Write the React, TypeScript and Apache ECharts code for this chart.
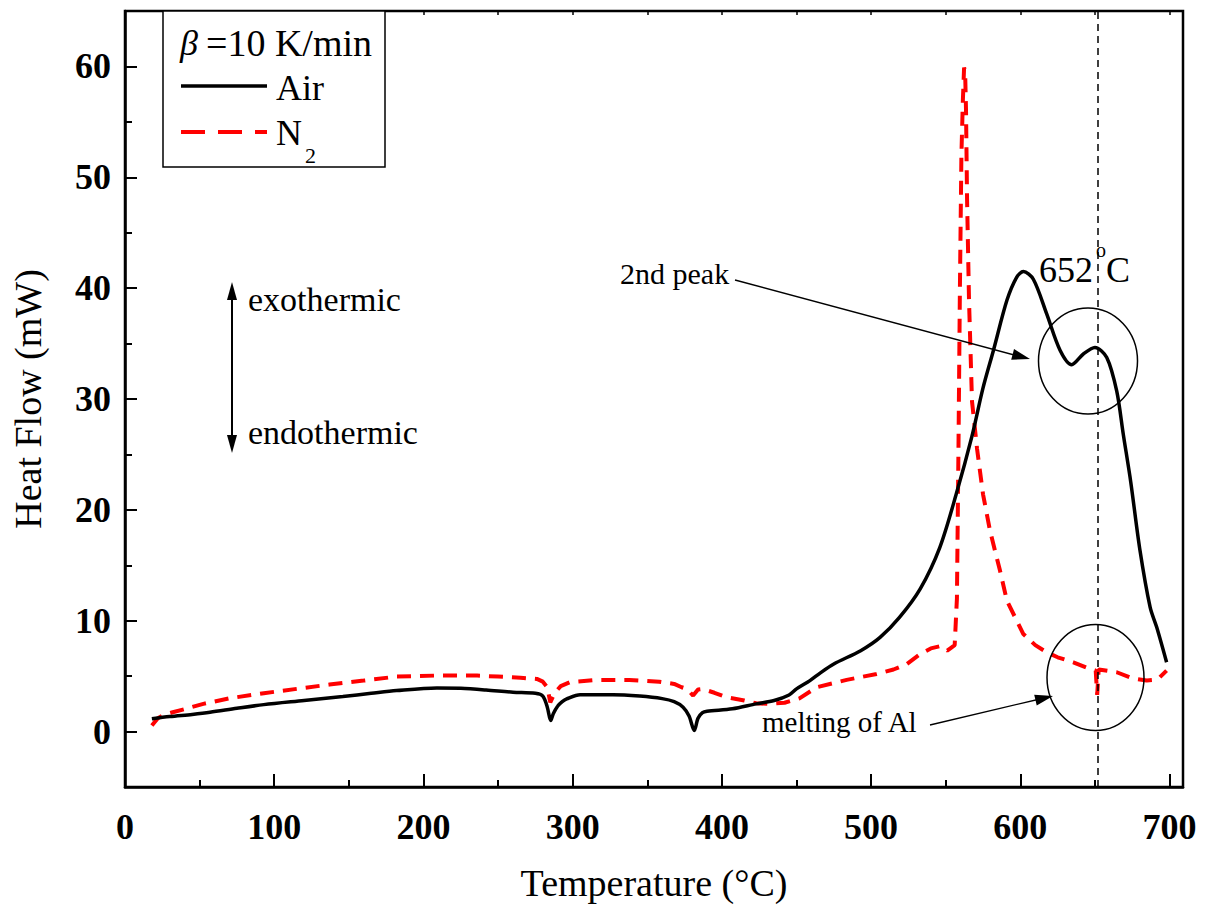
import React, { useEffect, useRef } from "react";
import * as echarts from "echarts";

// Air (black solid) – temperature (°C) and heat flow (mW)
const airT = [18, 30, 45, 57, 75, 93, 120, 146, 165, 182, 209, 225, 242, 260, 275, 280, 283, 285.3, 287, 290, 293, 296, 305, 327, 345, 360, 368, 374, 378, 381.5, 384, 387, 390, 407, 423, 435, 445, 450, 459, 466, 475, 493, 506, 519, 533, 546, 557, 567.5, 575, 582, 591, 597.6, 602, 608.7, 617.6, 626.6, 634.4, 642.2, 650, 657.9, 664.6, 669, 674, 680, 687, 691.4, 698];
const airH = [1.15, 1.35, 1.55, 1.74, 2.1, 2.43, 2.8, 3.16, 3.45, 3.7, 3.94, 3.9, 3.75, 3.55, 3.45, 3.2, 2.2, 0.99, 1.6, 2.3, 2.7, 2.95, 3.33, 3.33, 3.2, 2.97, 2.7, 2.2, 1.4, 0.09, 1.2, 1.7, 1.83, 2.05, 2.5, 2.8, 3.3, 3.85, 4.6, 5.3, 6.1, 7.3, 8.5, 10.3, 12.9, 16.6, 21.4, 26.6, 31, 34.4, 38.9, 41, 41.5, 40.8, 37.7, 34.4, 33.1, 34.06, 34.65, 33.75, 30.7, 26.8, 22.5, 16.5, 11.2, 9.4, 6.25];

// N2 (red dashed)
const n2T = [18, 22, 26, 32, 42, 52.5, 70, 93, 115, 137, 160, 182, 208, 236, 250, 265, 276, 280, 283, 285, 288, 292, 298, 316, 338, 358, 368, 373, 376.5, 380.7, 384, 387, 395, 403, 415, 423, 432, 442, 452, 463.5, 483.6, 503.7, 515, 524, 533, 540, 546, 549, 551, 554, 556, 557.5, 558.5, 559.5, 560.5, 561.5, 562.3, 563, 563.6, 564.3, 565.6, 567.6, 571, 575, 579.7, 586.4, 591, 602, 610, 617.7, 625, 635.5, 646.7, 650.5, 651.5, 652.5, 664.6, 675, 684.7, 692, 698];
const n2H = [0.54, 1.2, 1.5, 1.74, 2.1, 2.5, 3.0, 3.46, 3.85, 4.24, 4.6, 4.96, 5.05, 5.05, 4.96, 4.85, 4.75, 4.5, 4.0, 2.64, 3.5, 4.1, 4.45, 4.66, 4.66, 4.5, 4.3, 4.0, 3.85, 3.25, 3.8, 3.85, 3.5, 3.1, 2.8, 2.55, 2.5, 2.6, 3.0, 4.0, 4.66, 5.2, 5.6, 6.1, 7.0, 7.5, 7.7, 7.5, 7.3, 7.6, 7.8, 12, 25, 40, 52, 57, 59.9, 59.5, 56, 48, 38.9, 29.8, 25.5, 21.4, 18.1, 14.5, 11.8, 8.8, 7.8, 7.15, 6.7, 6.25, 5.65, 5.5, 3.3, 5.6, 5.35, 4.8, 4.6, 4.7, 5.5];

const xMajorTicks = [0, 100, 200, 300, 400, 500, 600, 700];
const xMinorTicks = [50, 150, 250, 350, 450, 550, 650];
const yMajorTicks = [0, 10, 20, 30, 40, 50, 60];
const yMinorTicks = [5, 15, 25, 35, 45, 55];
const meltingTemp = 652;

const FONT = "Liberation Serif";

function arrowHead(fx: number, fy: number, tx: number, ty: number, L = 18, W = 5.5) {
  const dx = tx - fx, dy = ty - fy;
  const len = Math.hypot(dx, dy);
  const ux = dx / len, uy = dy / len;
  const bx = tx - ux * L, by = ty - uy * L;
  const px = -uy, py = ux;
  return [[tx, ty], [bx + px * W, by + py * W], [bx - px * W, by - py * W]];
}

function txt(x: number, y: number, text: string, size: number, extra: any = {}) {
  return {
    type: "text",
    x,
    y,
    z: 100,
    style: {
      text,
      fontFamily: FONT,
      fontSize: size,
      fill: "#000",
      align: "left",
      verticalAlign: "middle",
      textAlign: "left",
      textVerticalAlign: "middle",
      ...extra,
    },
  };
}

export default function App() {
  const ref = useRef<HTMLDivElement>(null);
  useEffect(() => {
    if (!ref.current) return;
    const chart = echarts.init(ref.current, undefined, { renderer: "svg" });
    const airData = airT.map((t, i) => [t, airH[i]]);
    const n2Data = n2T.map((t, i) => [t, n2H[i]]);

    const xBase = { type: "value", min: 0, max: 709, interval: 100, gridIndex: 0, splitLine: { show: false } };
    const yBase = { type: "value", min: -5, max: 65, interval: 5, gridIndex: 0, splitLine: { show: false } };

    const a1 = arrowHead(735, 280, 1030, 359);
    const a2 = arrowHead(930, 725, 1053, 696);

    const option: any = {
      animation: false,
      backgroundColor: "#fff",
      textStyle: { fontFamily: FONT },
      grid: {
        left: 125, right: 24, top: 11, bottom: 125,
        show: true, borderColor: "#000", borderWidth: 2.5, backgroundColor: "transparent",
      },
      xAxis: [
        {
          ...xBase,
          position: "bottom",
          name: "Temperature (°C)",
          nameLocation: "middle",
          nameGap: 77,
          nameTextStyle: { fontFamily: FONT, fontSize: 38, color: "#000" },
          axisLine: { show: true, onZero: false, lineStyle: { color: "#000", width: 2.5 } },
          axisTick: { show: true, inside: true, length: 13, customValues: xMajorTicks, lineStyle: { color: "#000", width: 2 } },
          axisLabel: { customValues: xMajorTicks, margin: 22, fontFamily: FONT, fontWeight: "bold", fontSize: 36, color: "#000" },
        },
        {
          ...xBase,
          position: "bottom",
          axisLine: { show: false, onZero: false },
          axisTick: { show: true, inside: true, length: 7, customValues: xMinorTicks, lineStyle: { color: "#000", width: 2 } },
          axisLabel: { show: false },
        },
        {
          ...xBase,
          position: "top",
          axisLine: { show: false, onZero: false },
          axisTick: { show: true, inside: true, length: 4, customValues: [...xMajorTicks, ...xMinorTicks], lineStyle: { color: "#000", width: 1.5 } },
          axisLabel: { show: false },
        },
      ],
      yAxis: [
        {
          ...yBase,
          position: "left",
          name: "Heat Flow (mW)",
          nameLocation: "middle",
          nameGap: 78,
          nameTextStyle: { fontFamily: FONT, fontSize: 38, color: "#000" },
          axisLine: { show: true, onZero: false, lineStyle: { color: "#000", width: 2.5 } },
          axisTick: { show: true, inside: true, length: 12, customValues: yMajorTicks, lineStyle: { color: "#000", width: 2 } },
          axisLabel: { customValues: yMajorTicks, margin: 14, fontFamily: FONT, fontWeight: "bold", fontSize: 36, color: "#000" },
        },
        {
          ...yBase,
          position: "left",
          axisLine: { show: false, onZero: false },
          axisTick: { show: true, inside: true, length: 7, customValues: yMinorTicks, lineStyle: { color: "#000", width: 2 } },
          axisLabel: { show: false },
        },
      ],
      series: [
        {
          name: "N2",
          type: "line",
          xAxisIndex: 0,
          yAxisIndex: 0,
          data: n2Data,
          showSymbol: false,
          symbol: "none",
          lineStyle: { color: "#ff0000", width: 4, type: [14, 9] },
          z: 3,
        },
        {
          name: "Air",
          type: "line",
          xAxisIndex: 0,
          yAxisIndex: 0,
          data: airData,
          showSymbol: false,
          symbol: "none",
          smooth: 0.3,
          lineStyle: { color: "#000", width: 3.5 },
          z: 4,
          markLine: {
            silent: true,
            symbol: "none",
            label: { show: false },
            lineStyle: { color: "#000", width: 1.5, type: [7, 5] },
            data: [{ xAxis: meltingTemp }],
          },
        },
      ],
      graphic: [
        // legend box
        { type: "rect", z: 100, shape: { x: 163, y: 11, width: 222, height: 156 }, style: { fill: "#fff", stroke: "#000", lineWidth: 1.5 } },
        txt(180, 43, "β", 36, { fontStyle: "italic" }),
        txt(206, 43, "=10 K/min", 38),
        { type: "line", z: 100, shape: { x1: 181, y1: 86, x2: 267, y2: 86 }, style: { stroke: "#000", lineWidth: 3.5 } },
        txt(276, 88, "Air", 36),
        { type: "line", z: 100, shape: { x1: 181, y1: 132, x2: 267, y2: 132 }, style: { stroke: "#ff0000", lineWidth: 4, lineDash: [24, 13] } },
        txt(276, 133, "N", 36),
        txt(305, 155, "2", 22),
        // exo / endo arrow
        { type: "line", z: 100, shape: { x1: 232, y1: 295, x2: 232, y2: 440 }, style: { stroke: "#000", lineWidth: 2 } },
        { type: "polygon", z: 100, shape: { points: [[232, 282], [227, 300], [237, 300]] }, style: { fill: "#000" } },
        { type: "polygon", z: 100, shape: { points: [[232, 453], [227, 435], [237, 435]] }, style: { fill: "#000" } },
        txt(248, 299, "exothermic", 34),
        txt(248, 432, "endothermic", 34),
        // 2nd peak annotation
        txt(620, 273, "2nd peak", 30),
        { type: "line", z: 100, shape: { x1: 735, y1: 280, x2: 1018, y2: 356 }, style: { stroke: "#000", lineWidth: 1.3 } },
        { type: "polygon", z: 100, shape: { points: a1 }, style: { fill: "#000" } },
        { type: "ellipse", z: 100, shape: { cx: 1088, cy: 361, rx: 49.5, ry: 53 }, style: { fill: "none", stroke: "#000", lineWidth: 1.5 } },
        txt(1039, 270, "652", 36),
        txt(1096, 250, "o", 20),
        txt(1106, 270, "C", 36),
        // melting of Al annotation
        txt(762, 722, "melting of Al", 29),
        { type: "line", z: 100, shape: { x1: 930, y1: 725, x2: 1040, y2: 699 }, style: { stroke: "#000", lineWidth: 1.3 } },
        { type: "polygon", z: 100, shape: { points: a2 }, style: { fill: "#000" } },
        { type: "ellipse", z: 100, shape: { cx: 1095.5, cy: 677.5, rx: 48.5, ry: 53 }, style: { fill: "none", stroke: "#000", lineWidth: 1.5 } },
      ],
    };
    chart.setOption(option);
    return () => chart.dispose();
  }, []);

  return (
    <div
      ref={ref}
      style={{ position: "fixed", left: 0, top: 0, width: 1207, height: 912, background: "#fff" }}
    />
  );
}
